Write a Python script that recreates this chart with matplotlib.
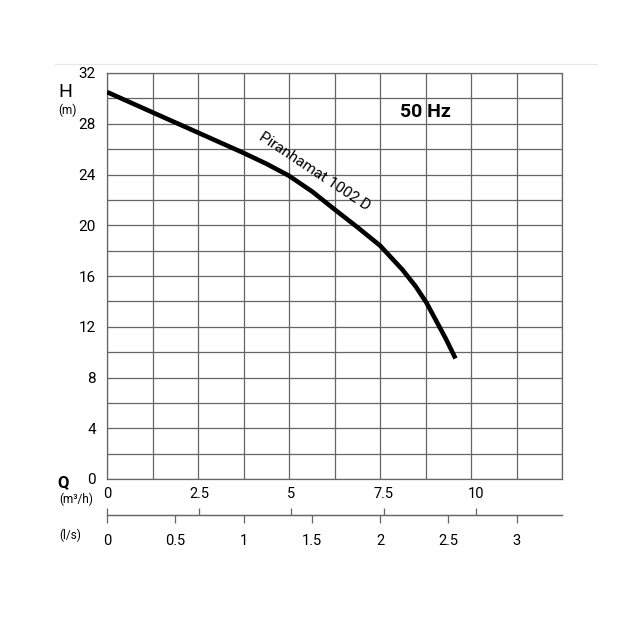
import matplotlib
matplotlib.use('Agg')
import matplotlib.pyplot as plt, numpy as np
from matplotlib.lines import Line2D

plt.rcParams['font.family'] = ['Roboto', 'DejaVu Sans']

# pump curve, flow in l/s, head in m
flow_ls = [0, 0.333, 0.667, 1.0, 1.167, 1.333, 1.504, 1.667, 1.834, 2.0, 2.164, 2.26, 2.34, 2.43, 2.48, 2.553]
head_m = [30.5, 28.9, 27.3, 25.7, 24.85, 23.9, 22.65, 21.25, 19.85, 18.4, 16.5, 15.2, 13.9, 12.1, 11.1, 9.5]

h_ticks = [0, 4, 8, 12, 16, 20, 24, 28, 32]
q_ticks = [0, 2.5, 5, 7.5, 10]                                      # m3/h
q_labels = ['0', '2.5', '5', '7.5', '10']
ls_ticks = [0, 0.5, 1, 1.5, 2, 2.5, 3]                              # l/s
ls_labels = ['0', '0.5', '1', '1.5', '2', '2.5', '3']
q_per_ls = 3.7                                                      # scale used on the sheet

curve_name = 'Piranhamat 1002 D'
freq = '50 Hz'

grid_c = '#666666'


def px(x, y):
    return x / 640, 1 - y / 640


fig = plt.figure(figsize=(6.4, 6.4), dpi=100)
ax = fig.add_axes([107 / 640, 1 - 479 / 640, 455 / 640, 406 / 640])

ax.plot(flow_ls, head_m, color='black', lw=3.3, solid_capstyle='butt',
        solid_joinstyle='round', zorder=3)

ax.set_xlim(0, 10 / 3)
ax.set_ylim(0, 32)
ax.set_xticks(np.arange(11) / 3)
ax.set_xticklabels([])
ax.set_yticks(h_ticks)
ax.set_yticks(np.arange(0, 33, 2), minor=True)
ax.tick_params(axis='both', which='both', length=0)
ax.tick_params(axis='y', labelsize=11, pad=8)
ax.grid(True, which='both', color=grid_c, lw=0.9)
for s in ax.spines.values():
    s.set_color(grid_c)
    s.set_linewidth(0.9)

ax.text(0.699, 0.904, freq, transform=ax.transAxes, fontsize=14, fontweight='bold',
        ha='center', va='center')
ax.text(0.455, 0.758, curve_name, transform=ax.transAxes, fontsize=11,
        rotation=-33.5, ha='center', va='center', rotation_mode='anchor')

# secondary scales below the chart
loc = -36 / 406
ax_ls = ax.secondary_xaxis(loc)
ax_ls.set_xticks(ls_ticks, ls_labels)
ax_ls.tick_params(direction='out', length=6, width=0.9, color=grid_c, labelsize=10.5, pad=8)
ax_ls.spines['bottom'].set_color(grid_c)
ax_ls.spines['bottom'].set_linewidth(0.9)

ax_q = ax.secondary_xaxis(loc, functions=(lambda x: x * q_per_ls, lambda q: q / q_per_ls))
ax_q.set_alignment('top')
ax_q.set_xticks(q_ticks, q_labels)
ax_q.tick_params(direction='out', length=5, width=0.9, color=grid_c, labelsize=10.5, pad=5)
for s in ax_q.spines.values():
    s.set_color(grid_c)
    s.set_linewidth(0.9)

# axis captions
fig.text(*px(65, 92), 'H', fontsize=14, ha='center', va='center')
fig.text(*px(67, 110), '(m)', fontsize=8.5, ha='center', va='center')
fig.text(*px(63, 483), 'Q', fontsize=12, fontweight='bold', ha='center', va='center')
fig.text(*px(76, 499), '(m³/h)', fontsize=8.5, ha='center', va='center')
fig.text(*px(70, 535), '(l/s)', fontsize=8.5, ha='center', va='center')

# faint rule at the top of the sheet
x0, y0 = px(55, 64)
x1, _ = px(597, 64)
fig.add_artist(Line2D([x0, x1], [y0, y0], color='#e6e6e6', lw=0.8))

fig.savefig('out.png', dpi=100)
